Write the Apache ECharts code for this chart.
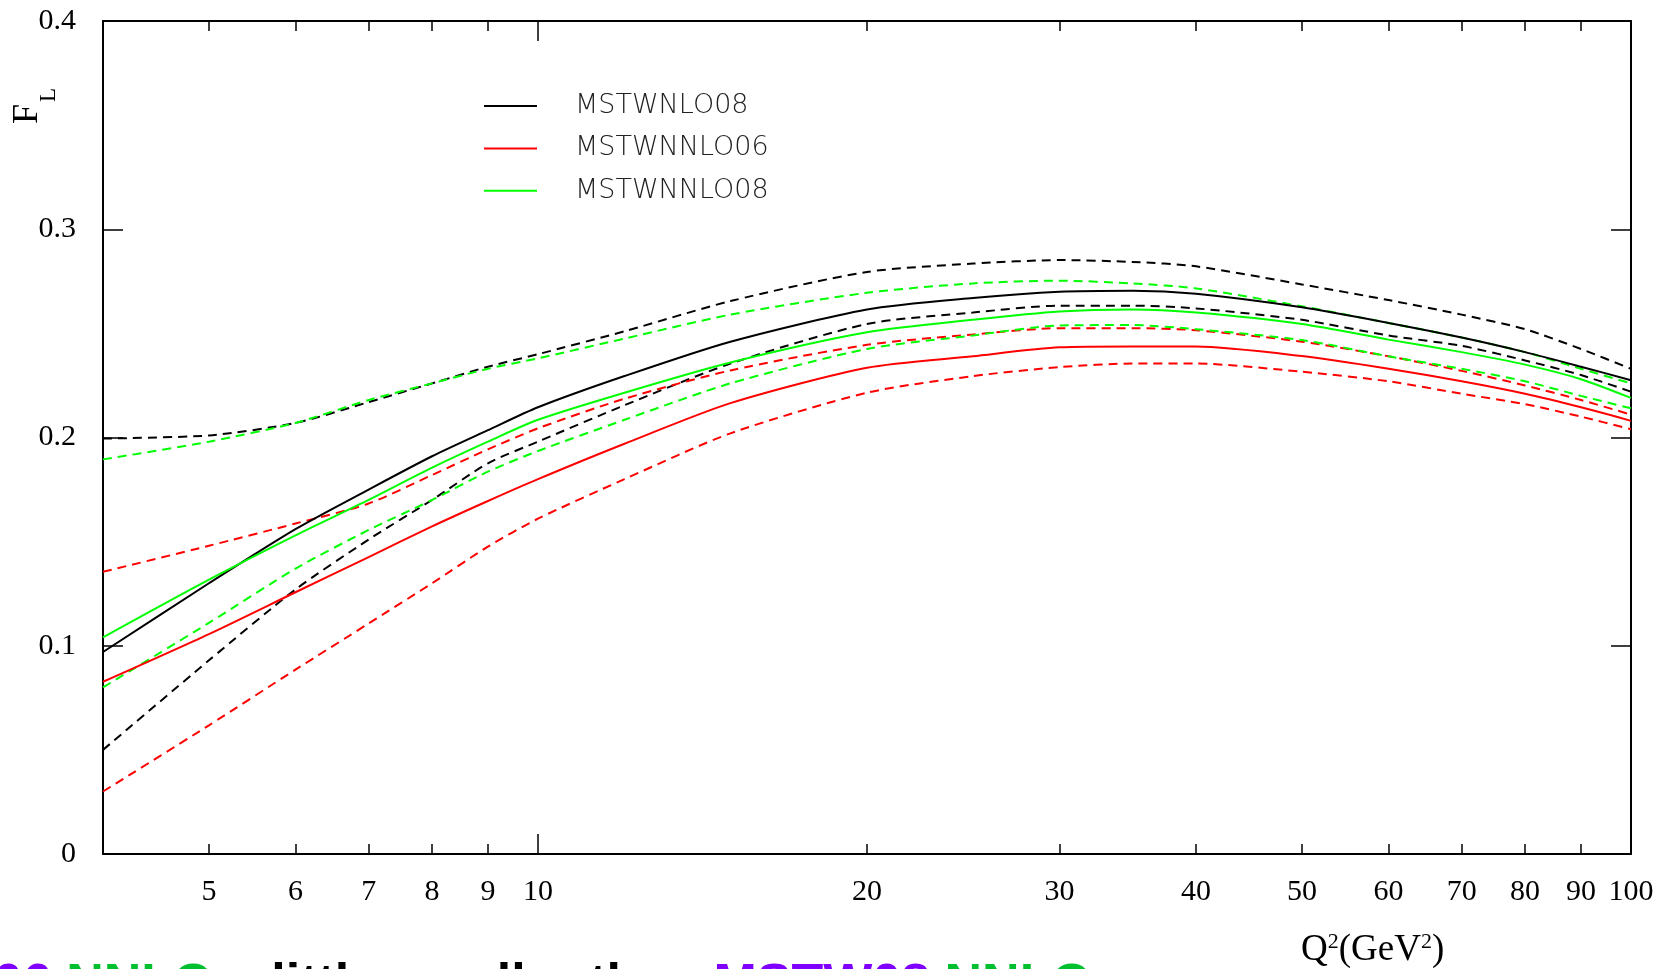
<!DOCTYPE html>
<html><head><meta charset="utf-8">
<script src="https://cdn.jsdelivr.net/npm/echarts@6/dist/echarts.min.js"></script>
<style>html,body{margin:0;padding:0;background:#fff;overflow:hidden}#c{width:1667px;height:969px;}</style>
</head><body><div id="c"></div>
<script>
// Q^2 sample points (GeV^2)
const q2 = [4, 5, 6, 7, 8, 9, 10, 12, 15, 20, 25, 30, 35, 40, 50, 60, 70, 80, 90, 100];
// MSTWNLO08
const nlo08Central = [0.097, 0.130, 0.156, 0.175, 0.191, 0.2035, 0.2145, 0.2295, 0.246, 0.2615, 0.267, 0.270, 0.2705, 0.269, 0.2625, 0.255, 0.248, 0.241, 0.234, 0.2275];
const nlo08Upper   = [0.1995, 0.201, 0.207, 0.217, 0.226, 0.234, 0.240, 0.251, 0.2655, 0.2795, 0.2835, 0.2852, 0.2843, 0.2822, 0.2735, 0.266, 0.259, 0.252, 0.2425, 0.233];
const nlo08Lower   = [0.050, 0.093, 0.127, 0.151, 0.170, 0.1876, 0.198, 0.2155, 0.2355, 0.2545, 0.260, 0.2633, 0.2633, 0.262, 0.2565, 0.249, 0.244, 0.237, 0.230, 0.222];
// MSTWNNLO06
const nnlo06Central = [0.0827, 0.1056, 0.1257, 0.1426, 0.1573, 0.1695, 0.180, 0.197, 0.2165, 0.2335, 0.239, 0.2433, 0.2437, 0.2437, 0.2391, 0.233, 0.227, 0.221, 0.2145, 0.208];
const nnlo06Upper   = [0.1355, 0.148, 0.1587, 0.1683, 0.182, 0.1943, 0.2044, 0.2186, 0.2322, 0.2445, 0.2495, 0.2525, 0.2525, 0.2515, 0.246, 0.239, 0.232, 0.225, 0.218, 0.211];
const nnlo06Lower   = [0.030, 0.0618, 0.0885, 0.1107, 0.130, 0.1476, 0.161, 0.180, 0.202, 0.2215, 0.2295, 0.2338, 0.2355, 0.2355, 0.2316, 0.227, 0.221, 0.216, 0.210, 0.204];
// MSTWNNLO08
const nnlo08Central = [0.104, 0.1317, 0.153, 0.170, 0.1855, 0.198, 0.2085, 0.2215, 0.236, 0.2505, 0.2565, 0.2605, 0.2615, 0.260, 0.2545, 0.247, 0.241, 0.235, 0.228, 0.219];
const nnlo08Upper   = [0.1895, 0.198, 0.207, 0.218, 0.226, 0.233, 0.238, 0.2475, 0.259, 0.2695, 0.274, 0.2753, 0.274, 0.2716, 0.263, 0.255, 0.248, 0.241, 0.233, 0.226];
const nnlo08Lower   = [0.080, 0.111, 0.137, 0.1556, 0.170, 0.1836, 0.1935, 0.2085, 0.226, 0.2425, 0.249, 0.2538, 0.254, 0.252, 0.2468, 0.239, 0.233, 0.227, 0.220, 0.214];

const xTickLabels = [5, 6, 7, 8, 9, 10, 20, 30, 40, 50, 60, 70, 80, 90, 100];
const xMinorTicks = [5, 6, 7, 8, 9, 20, 30, 40, 50, 60, 70, 80, 90];
const xMajorTicks = [10];
const legendNames = ['MSTWNLO08', 'MSTWNNLO06', 'MSTWNNLO08'];

const BLACK = '#000000', RED = '#ff0000', GREEN = '#00ff00';

function mk(name, vals, color, dashed) {
  return {
    type: 'line', name: name,
    data: q2.map((x, i) => [x, vals[i]]),
    symbol: 'none', showSymbol: false, smooth: 0.25,
    xAxisIndex: 0, yAxisIndex: 0,
    color: color,
    itemStyle: { color: color },
    lineStyle: { color: color, width: 2, type: dashed ? [9, 6] : 'solid' },
    emphasis: { disabled: true },
    animation: false
  };
}

const serif = '"Liberation Serif", "Times New Roman", serif';
const sans = '"Liberation Sans", Arial, sans-serif';
function xAx(pos, ticks, len, labels, line) {
  return {
    type: 'log', logBase: 10, min: 4, max: 100, position: pos,
    axisLine: { show: line, lineStyle: { color: '#000', width: 2 } },
    axisTick: { show: true, inside: true, length: len, customValues: ticks, lineStyle: { color: '#000', width: 1.5 } },
    axisLabel: labels ? {
      show: true, customValues: xTickLabels, margin: 23,
      formatter: v => String(Math.round(v)),
      fontFamily: serif, fontSize: 30, color: '#000'
    } : { show: false },
    splitLine: { show: false }, minorTick: { show: false }
  };
}
function yAx(pos, labels) {
  return {
    type: 'value', min: 0, max: 0.4, interval: 0.1, position: pos,
    axisLine: { show: true, lineStyle: { color: '#000', width: 2 } },
    axisTick: { show: true, inside: true, length: 20, lineStyle: { color: '#000', width: 1.5 } },
    axisLabel: labels ? { show: true, margin: 27, fontFamily: serif, fontSize: 30, color: '#000',
      formatter: v => (v === 0 ? '0' : v.toFixed(1)) } : { show: false },
    splitLine: { show: false }
  };
}

const chart = echarts.init(document.getElementById('c'), null, { renderer: 'canvas' });
chart.setOption({
  animation: false,
  backgroundColor: '#fff',
  grid: { left: 103, right: 36, top: 21, bottom: 115, containLabel: false },
  xAxis: [
    xAx('bottom', xMinorTicks, 10, true, true),
    xAx('bottom', xMajorTicks, 20, false, false),
    xAx('top', xMinorTicks, 10, false, true),
    xAx('top', xMajorTicks, 20, false, false)
  ],
  yAxis: [ yAx('left', true), yAx('right', false) ],
  legend: {
    data: legendNames, orient: 'vertical', left: 479, top: 86,
    icon: 'rect', itemWidth: 53, itemHeight: 2, itemGap: 12.4,
    selectedMode: false,
    textStyle: { fontFamily: '"DejaVu Sans", sans-serif', fontWeight: 200, fontSize: 27, color: '#222', lineHeight: 30, padding: [0, 0, 0, 33] }
  },
  series: [
    mk('MSTWNLO08 upper', nlo08Upper, BLACK, true),
    mk('MSTWNLO08 lower', nlo08Lower, BLACK, true),
    mk('MSTWNNLO06 upper', nnlo06Upper, RED, true),
    mk('MSTWNNLO06 lower', nnlo06Lower, RED, true),
    mk('MSTWNNLO08 upper', nnlo08Upper, GREEN, true),
    mk('MSTWNNLO08 lower', nnlo08Lower, GREEN, true),
    mk('MSTWNLO08', nlo08Central, BLACK, false),
    mk('MSTWNNLO06', nnlo06Central, RED, false),
    mk('MSTWNNLO08', nnlo08Central, GREEN, false)
  ],
  graphic: [
    { type: 'text', x: 28, y: 114, rotation: Math.PI / 2,
      style: { text: 'F', align: 'center', verticalAlign: 'middle',
        fontFamily: serif, fontSize: 36, fill: '#000' } },
    { type: 'text', x: 49, y: 95, rotation: Math.PI / 2,
      style: { text: 'L', align: 'center', verticalAlign: 'middle',
        fontFamily: serif, fontSize: 23, fill: '#000' } },
    { type: 'text', x: 1301, y: 950,
      style: { text: '{a|Q}{s|2}{a|(GeV}{s|2}{a|)}', verticalAlign: 'middle',
        rich: { a: { fontFamily: serif, fontSize: 37, fill: '#000' },
                s: { fontFamily: serif, fontSize: 22, fill: '#000', padding: [0, 0, 16, 0] } } } },
    { type: 'text', x: -165, y: 986,
      style: { text: '{p|MSTW06 }{g|NNLO }{k|a little smaller than }{p|MSTW08 }{g|NNLO}', verticalAlign: 'middle',
        rich: { p: { fontFamily: sans, fontWeight: 'bold', fontSize: 52, fill: '#8000ff' },
                g: { fontFamily: sans, fontWeight: 'bold', fontSize: 52, fill: '#00c030' },
                k: { fontFamily: sans, fontWeight: 'bold', fontSize: 52, fill: '#000' } } } }
  ]
});
</script>
</body></html>
